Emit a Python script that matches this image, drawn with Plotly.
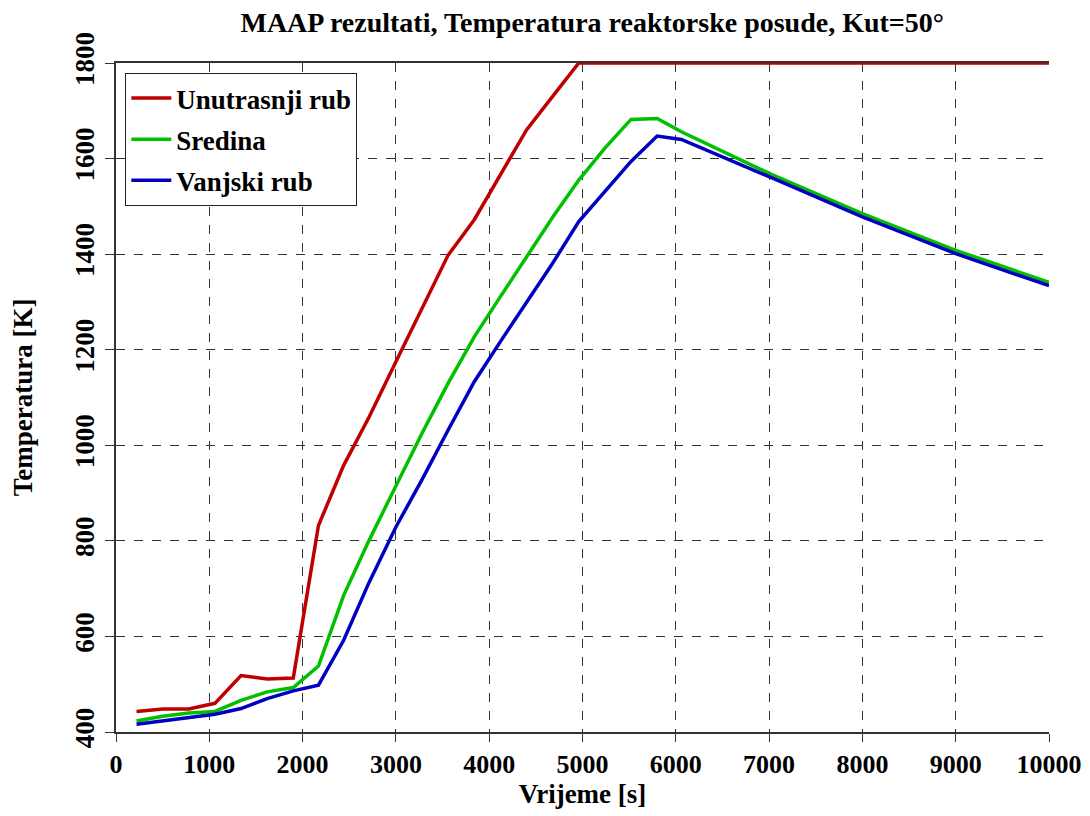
import plotly.graph_objects as go

# Time points [s] and temperatures [K]
t_red = [220, 500, 780, 1060, 1340, 1620, 1900, 2170, 2440, 2710, 3000, 3280,
         3560, 3840, 4120, 4400, 4680, 4960, 10000]
T_red = [443, 448, 448, 460, 518, 511, 513, 832, 958, 1058, 1175, 1285,
         1398, 1472, 1565, 1660, 1730, 1800, 1800]

t_mid = [220, 500, 780, 1060, 1340, 1620, 1900, 2170, 2440, 2710, 3000, 3280,
         3560, 3840, 4120, 4400, 4680, 4960, 5240, 5520, 5800, 6060, 7000,
         8000, 9000, 10000]
T_green = [423, 433, 440, 443, 466, 484, 493, 538, 686, 800, 915, 1025,
           1130, 1227, 1311, 1395, 1477, 1555, 1622, 1682, 1684, 1656, 1569,
           1485, 1408, 1341]
T_blue = [416, 423, 430, 437, 449, 470, 486, 498, 592, 712, 829, 928,
          1032, 1133, 1217, 1299, 1381, 1468, 1531, 1594, 1647, 1640, 1562,
          1478, 1401, 1334]

names = ["Unutrasnji rub", "Sredina", "Vanjski rub"]
colors = ["#C00000", "#00C000", "#0000C0"]

x_ticks = [0, 1000, 2000, 3000, 4000, 5000, 6000, 7000, 8000, 9000, 10000]
y_ticks = [400, 600, 800, 1000, 1200, 1400, 1600, 1800]

FONT = "Liberation Serif"

fig = go.Figure()
for i, (x, y) in enumerate([(t_red, T_red), (t_mid, T_green), (t_mid, T_blue)]):
    fig.add_trace(go.Scatter(x=x, y=y, mode="lines", name=names[i],
                             legendgroup=f"g{i}",
                             line=dict(color=colors[i], width=3.5)))

fig.update_layout(
    width=1090, height=816,
    margin=dict(l=108, r=49, t=55, b=92, autoexpand=False),
    paper_bgcolor="white", plot_bgcolor="white",
    font=dict(family=FONT, color="black"),
    title=dict(text="<b>MAAP rezultati, Temperatura reaktorske posude, Kut=50°</b>",
               x=0.536, xanchor="center", y=0.983, yanchor="middle",
               font=dict(family=FONT, size=28, color="black")),
    showlegend=True,
    legend=dict(x=0.01, y=0.985, xanchor="left", yanchor="top",
                bgcolor="white", bordercolor="#222", borderwidth=1,
                font=dict(family=FONT, size=27, color="black", weight="bold"),
                tracegroupgap=3, itemwidth=40),
)
fig.update_xaxes(
    range=[0, 10000], tickvals=x_ticks, ticktext=[str(v) for v in x_ticks],
    showgrid=True, gridcolor="#333", griddash="dash", gridwidth=1,
    showline=True, linecolor="#333", linewidth=2, mirror=True,
    ticks="outside", ticklen=8, tickcolor="#333", automargin=True,
    tickfont=dict(family=FONT, size=26, weight="bold"),
    title=dict(text="<b>Vrijeme [s]</b>", font=dict(family=FONT, size=27), standoff=4),
    zeroline=False,
)
fig.update_yaxes(
    range=[400, 1800], tickvals=y_ticks, ticktext=[str(v) for v in y_ticks],
    showgrid=True, gridcolor="#333", griddash="dash", gridwidth=1,
    showline=True, linecolor="#333", linewidth=2, automargin=True,
    ticks="outside", ticklen=9, tickcolor="#333", tickangle=-90,
    tickfont=dict(family=FONT, size=27, weight="bold"),
    title=dict(text="<b>Temperatura [K]</b>", font=dict(family=FONT, size=27), standoff=38),
    zeroline=False,
)

fig.write_html("out.html")
